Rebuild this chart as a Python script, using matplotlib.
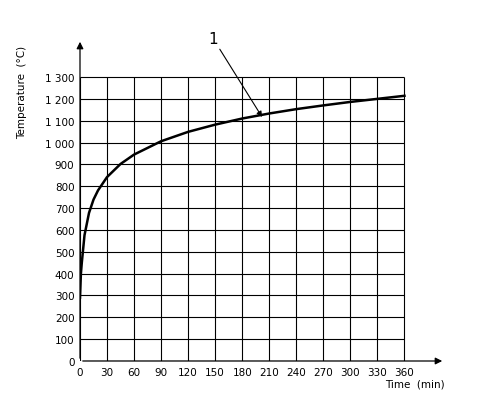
import matplotlib.pyplot as plt

# standard fire curve
t_min = [0, 1, 2, 5, 10, 15, 20, 30, 45, 60, 90, 120, 150, 180, 210, 240, 270, 300, 330, 360]
temp_c = [290, 400, 450, 576, 678, 739, 781, 842, 902, 945, 1006, 1049, 1082, 1110, 1133,
          1153, 1170, 1186, 1200, 1214]
x_ticks = list(range(0, 361, 30))
y_ticks = list(range(0, 1301, 100))


def fmt(v):
    return f"{v:,}".replace(",", " ")


fig = plt.figure(figsize=(4.81, 4.06), dpi=100)
ax = fig.add_axes([80 / 481, 1 - 362 / 406, 365 / 481, 322 / 406])
ax.set_xlim(0, 405)
ax.set_ylim(0, 1474)
for s in ax.spines.values():
    s.set_visible(False)

# grid inside the 0..360 / 0..1300 box
ax.vlines(x_ticks, 0, 1300, color="black", lw=0.8)
ax.hlines(y_ticks, 0, 360, color="black", lw=0.8)

# axes with arrows
ax.annotate("", xy=(405, 0), xytext=(0, 0),
            arrowprops=dict(arrowstyle="-|>", color="black", lw=0.9, mutation_scale=10))
ax.annotate("", xy=(0, 1474), xytext=(0, 0),
            arrowprops=dict(arrowstyle="-|>", color="black", lw=0.9, mutation_scale=10))

ax.plot(t_min, temp_c, color="black", lw=1.8)

ax.annotate("1", xy=(202, 1117), xytext=(148, 1440), fontsize=11, ha="center", va="bottom",
            arrowprops=dict(arrowstyle="-|>", color="black", lw=0.8, shrinkA=0, shrinkB=0,
                            mutation_scale=8))

ax.set_xticks(x_ticks)
ax.set_xticklabels([str(v) for v in x_ticks], fontsize=7.5)
ax.set_yticks(y_ticks)
ax.set_yticklabels([fmt(v) for v in y_ticks], fontsize=7.5)
ax.tick_params(length=0, pad=4)

fig.text(415 / 481, 1 - 385 / 406, "Time  (min)", fontsize=7.5, ha="center", va="center")
fig.text(22 / 481, 1 - 92 / 406, "Temperature  (°C)", fontsize=7.5, rotation=90,
         ha="center", va="center")

fig.savefig("out.png", dpi=100)
